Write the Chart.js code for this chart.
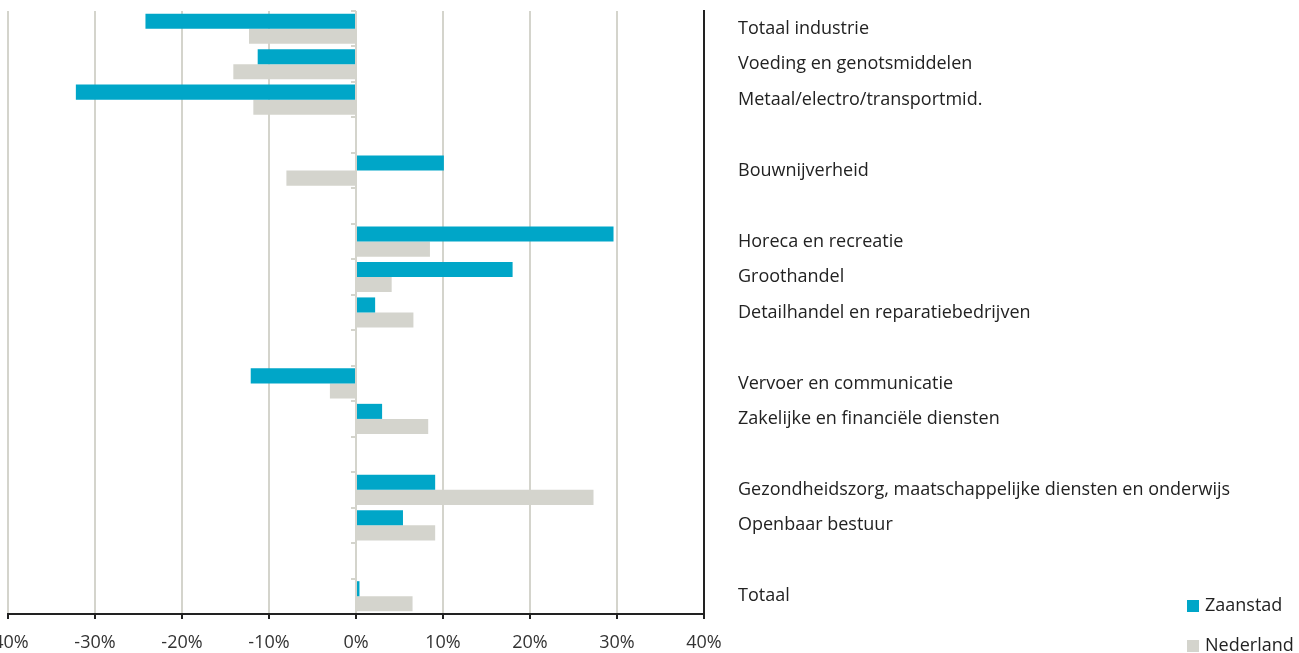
<!DOCTYPE html>
<html>
<head>
<meta charset="utf-8">
<script src="https://cdn.jsdelivr.net/npm/chart.js@4.4.0/dist/chart.umd.min.js"></script>
<style>
  html, body { margin: 0; padding: 0; background: #fff; overflow: hidden; }
  #wrap { position: relative; width: 1299px; height: 653px; overflow: hidden; }
  #chart { position: absolute; left: -40px; top: 0; }
  .leg { position: absolute; left: 1187px; font: 18px "Open Sans", sans-serif; color: #222; line-height: 24px; }
  .leg span { display: inline-block; width: 12px; height: 12px; margin-right: 6px; vertical-align: -1px; }
</style>
</head>
<body>
<div id="wrap">
  <canvas id="chart" width="1339" height="653"></canvas>
  <div class="leg" style="top:592px"><span style="background:#00a6c8"></span>Zaanstad</div>
  <div class="leg" style="top:632px"><span style="background:#d4d4cd"></span>Nederland</div>
</div>
<script>
const categories = [
  'Totaal industrie',
  'Voeding en genotsmiddelen',
  'Metaal/electro/transportmid.',
  '',
  'Bouwnijverheid',
  '',
  'Horeca en recreatie',
  'Groothandel',
  'Detailhandel en reparatiebedrijven',
  '',
  'Vervoer en communicatie',
  'Zakelijke en financiële diensten',
  '',
  'Gezondheidszorg, maatschappelijke diensten en onderwijs',
  'Openbaar bestuur',
  '',
  'Totaal'
];
const zaanstad = [-24.2, -11.3, -32.2, null, 10.1, null, 29.6, 18.0, 2.2, null, -12.1, 3.0, null, 9.1, 5.4, null, 0.4];
const nederland = [-12.3, -14.1, -11.8, null, -8.0, null, 8.5, 4.1, 6.6, null, -3.0, 8.3, null, 27.3, 9.1, null, 6.5];
const xTicks = [-40, -30, -20, -10, 0, 10, 20, 30, 40];

const font = { family: '"Open Sans", sans-serif', size: 18 };

new Chart(document.getElementById('chart'), {
  type: 'bar',
  data: {
    labels: categories,
    datasets: [
      { label: 'Zaanstad', data: zaanstad, backgroundColor: '#00a6c8' },
      { label: 'Nederland', data: nederland, backgroundColor: '#d4d4cd' }
    ]
  },
  options: {
    indexAxis: 'y',
    responsive: false,
    animation: false,
    layout: { padding: { left: 48, top: 11, right: 0, bottom: 0 } },
    datasets: { bar: { barPercentage: 1, categoryPercentage: 0.85 } },
    plugins: { legend: { display: false }, tooltip: { enabled: false } },
    scales: {
      x: {
        min: -40, max: 40,
        afterBuildTicks: (s) => { s.ticks = xTicks.map(v => ({ value: v })); },
        afterFit: (s) => { s.height = 39; },
        grid: { color: '#d4d4cc', lineWidth: 2, tickColor: '#222', tickLength: 5 },
        border: { color: '#222', width: 2 },
        ticks: { font: font, color: '#333', padding: 13, callback: (v) => v + '%' }
      },
      y: {
        position: 'right',
        afterFit: (s) => { s.width = 595; s.paddingTop = 0; s.paddingBottom = 0; },
        grid: { display: false, drawTicks: true, tickLength: 34 },
        border: { color: '#222', width: 2 },
        ticks: { font: font, color: '#222', padding: 0, autoSkip: false }
      },
      y2: {
        type: 'category',
        position: { x: 0 },
        offset: true,
        afterFit: (s) => { s.paddingTop = 0; s.paddingBottom = 0; },
        grid: { offset: true, drawOnChartArea: false, color: '#d4d4cc', lineWidth: 2, tickLength: 5 },
        border: { display: false },
        ticks: { display: false }
      }
    }
  }
});
</script>
</body>
</html>
